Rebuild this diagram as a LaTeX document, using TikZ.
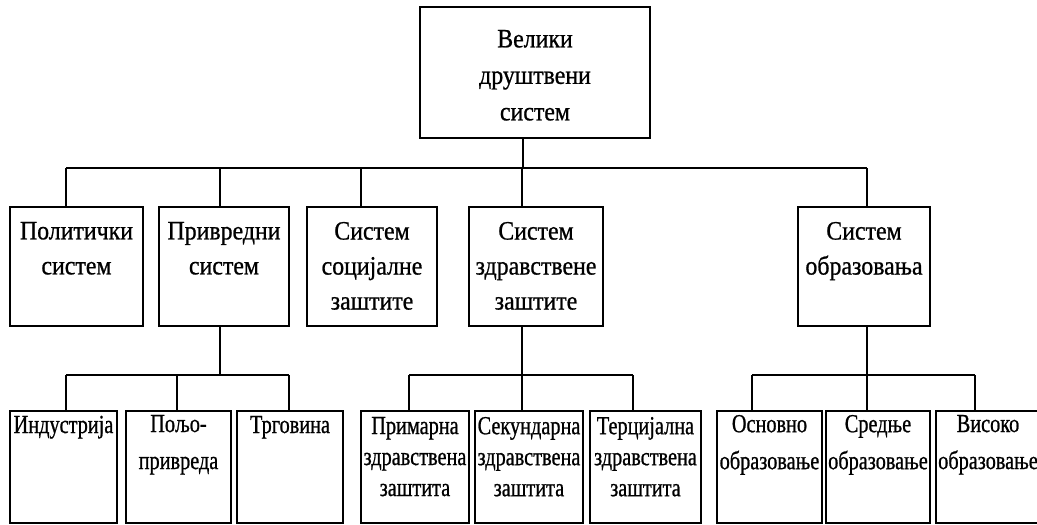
\documentclass[tikz,border=0pt]{standalone}
\usepackage{fontspec}
\setmainfont{Liberation Serif}
\newfontfamily\widefont{Liberation Serif}[FakeStretch=0.9,FakeBold=0.8]
\newfontfamily\narrowfont{Liberation Serif}[FakeStretch=0.78,FakeBold=0.8]
\begin{document}
\begin{tikzpicture}[x=1pt,y=-1pt,line width=2pt,
  box/.style={draw=black,rectangle,inner sep=0pt},
  txt/.style={anchor=north,inner sep=0pt,align=center,text=black,
    execute at begin node=\rule{0pt}{20pt}},
  uppertxt/.style={txt,font=\widefont\fontsize{26.5}{35}\selectfont},
  roottxt/.style={txt,font=\widefont\fontsize{26.5}{36.5}\selectfont},
  lowtxt/.style={txt,font=\narrowfont\fontsize{26}{37}\selectfont},
  tighttxt/.style={txt,font=\narrowfont\fontsize{26}{31}\selectfont}]

\path[use as bounding box,fill=white] (0,0) rectangle (1037,525);

% root
\node[box,minimum width=230pt,minimum height=131pt] (root) at (535,72.5) {};
\node[roottxt] (root-t) at ([yshift=-23pt]root.north) {Велики\\друштвени\\систем};

% second level
\node[box,minimum width=133pt,minimum height=119pt] (pol)  at (76.5,266.5) {};
\node[box,minimum width=130pt,minimum height=119pt] (priv) at (224,266.5) {};
\node[box,minimum width=130pt,minimum height=119pt] (soc)  at (372,266.5) {};
\node[box,minimum width=134pt,minimum height=119pt] (zdr)  at (536,266.5) {};
\node[box,minimum width=132pt,minimum height=119pt] (obr)  at (864,266.5) {};

\node[uppertxt] (pol-t)  at ([yshift=-15pt]pol.north)  {Политички\\систем};
\node[uppertxt] (priv-t) at ([yshift=-15pt]priv.north) {Привредни\\систем};
\node[uppertxt] (soc-t)  at ([yshift=-15pt]soc.north)  {Систем\\социјалне\\заштите};
\node[uppertxt] (zdr-t)  at ([yshift=-15pt]zdr.north)  {Систем\\здравствене\\заштите};
\node[uppertxt] (obr-t)  at ([yshift=-15pt]obr.north)  {Систем\\образовања};

% third level
\node[box,minimum width=107pt,minimum height=112pt] (ind)  at (63.5,467) {};
\node[box,minimum width=105pt,minimum height=112pt] (polj) at (178.5,467) {};
\node[box,minimum width=106pt,minimum height=112pt] (trg)  at (290,467) {};
\node[box,minimum width=108pt,minimum height=112pt] (prim) at (415,467) {};
\node[box,minimum width=108pt,minimum height=112pt] (sek)  at (529,467) {};
\node[box,minimum width=111pt,minimum height=112pt] (ter)  at (645.5,467) {};
\node[box,minimum width=105pt,minimum height=112pt] (osn)  at (769.5,467) {};
\node[box,minimum width=104pt,minimum height=112pt] (sre)  at (878,467) {};
\node[box,minimum width=104pt,minimum height=112pt] (vis)  at (988,467) {};

\node[lowtxt]   (ind-t)  at ([yshift=-2pt]ind.north)  {Индустрија};
\node[lowtxt]   (polj-t) at ([yshift=-4pt]polj.north) {Пољо-\\привреда};
\node[lowtxt]   (trg-t)  at ([yshift=-2pt]trg.north)  {Трговина};
\node[tighttxt] (prim-t) at ([yshift=-6pt]prim.north) {Примарна\\здравствена\\заштита};
\node[tighttxt] (sek-t)  at ([yshift=-6pt]sek.north)  {Секундарна\\здравствена\\заштита};
\node[tighttxt] (ter-t)  at ([yshift=-6pt]ter.north)  {Терцијална\\здравствена\\заштита};
\node[lowtxt]   (osn-t)  at ([yshift=-4pt]osn.north)  {Основно\\образовање};
\node[lowtxt]   (sre-t)  at ([yshift=-4pt]sre.north)  {Средње\\образовање};
\node[lowtxt]   (vis-t)  at ([yshift=-4pt]vis.north)  {Високо\\образовање};

% junctions on the upper bus
\coordinate (j-root) at (523,168);
\coordinate (b-pol)  at (66,168);
\coordinate (b-priv) at (220,168);
\coordinate (b-soc)  at (361,168);
\coordinate (b-zdr)  at (522,168);
\coordinate (b-obr)  at (867,168);

\draw (root.south -| j-root) -- (j-root);
\draw (b-pol) -- (b-obr);
\foreach \n in {pol,priv,soc,zdr,obr}
  \draw (b-\n) -- (b-\n |- \n.north);

% junctions on the lower buses
\coordinate (c-priv) at (220,375);
\coordinate (c-ind)  at (66,375);
\coordinate (c-polj) at (177,375);
\coordinate (c-trg)  at (289,375);
\coordinate (c-zdr)  at (522,375);
\coordinate (c-prim) at (409,375);
\coordinate (c-sek)  at (522,375);
\coordinate (c-ter)  at (633,375);
\coordinate (c-obr)  at (867,375);
\coordinate (c-osn)  at (752,375);
\coordinate (c-sre)  at (867,375);
\coordinate (c-vis)  at (975,375);

\draw (priv.south -| c-priv) -- (c-priv);
\draw (zdr.south -| c-zdr) -- (c-zdr);
\draw (obr.south -| c-obr) -- (c-obr);
\draw (c-ind) -- (c-trg);
\draw (c-prim) -- (c-ter);
\draw (c-osn) -- (c-vis);
\foreach \n in {ind,polj,trg,prim,sek,ter,osn,sre,vis}
  \draw (c-\n) -- (c-\n |- \n.north);
\end{tikzpicture}
\end{document}
